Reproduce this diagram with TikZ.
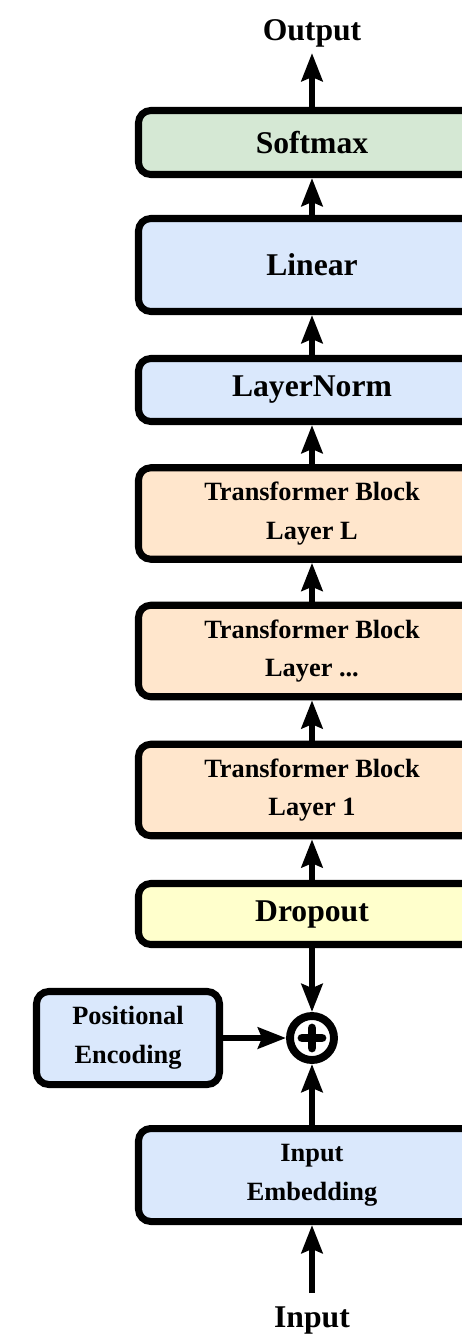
\documentclass[tikz,border=0pt]{standalone}
\usepackage{fontspec}
\setmainfont{Liberation Serif}
\usetikzlibrary{
  positioning,
  arrows.meta
}
\usepackage{xcolor}
\definecolor{embedblue}{HTML}{DAE8FC}
\definecolor{blockorange}{HTML}{FFE6CC}
\definecolor{dropyellow}{HTML}{FFFFCC}
\definecolor{softgreen}{HTML}{D5E8D4}

\begin{document}
\begin{tikzpicture}[
  box/.style={draw, line width=4pt, rounded corners=7pt, minimum width=6.94cm,
              align=center, font=\fontsize{18}{22}\selectfont\bfseries},
  smallbox/.style={box, font=\fontsize{15}{22}\selectfont\bfseries},
  blockbox/.style={smallbox, fill=blockorange, minimum height=1.83cm},
  addnode/.style={draw, circle, line width=4.5pt, minimum size=0.88cm, inner sep=0pt},
  plusbar/.style={line width=5pt, line cap=round},
  lbl/.style={font=\fontsize{18}{22}\selectfont\bfseries},
  arr/.style={-{Stealth[length=0.56cm, width=0.42cm, inset=0.08cm]}, line width=3.4pt}
]
  \clip (0,0) rectangle (9.24,-26.72);

  % Output head
  \node[lbl] (output) at (6.24, -0.66) {Output};
  \node[box, fill=softgreen, minimum height=1.28cm] (softmax) at (6.24, -2.85) {Softmax};
  \node[box, fill=embedblue, minimum height=1.86cm] (linear) at (6.24, -5.3) {Linear};
  \node[box, fill=embedblue, minimum height=1.26cm] (norm) at (6.24, -7.8) {LayerNorm};

  % Transformer stack
  \node[blockbox] (layerL) at (6.24, -10.27) {Transformer Block\\Layer L};
  \node[blockbox] (layerdots) at (6.24, -13.02) {Transformer Block\\Layer ...};
  \node[blockbox] (layer1) at (6.24, -15.8) {Transformer Block\\Layer 1};
  \node[box, fill=dropyellow, minimum height=1.22cm] (dropout) at (6.24, -18.28) {Dropout};

  % Embedding + position
  \node[addnode] (add) at (6.24, -20.76) {};
  \node[smallbox, fill=embedblue, minimum width=3.66cm, minimum height=1.86cm] (posenc)
    at (2.56, -20.76) {Positional\\Encoding};
  \node[smallbox, fill=embedblue, minimum height=1.86cm] (embed) at (6.24, -23.5) {Input\\Embedding};
  \node[lbl] (input) at (6.24, -26.4) {Input};

  \draw[plusbar] ([xshift=-0.2cm]add.center) -- ([xshift=0.2cm]add.center);
  \draw[plusbar] ([yshift=-0.2cm]add.center) -- ([yshift=0.2cm]add.center);

  \draw[arr, shorten <=4pt] (input) -- (embed);
  \draw[arr] (embed) -- (add);
  \draw[arr] (posenc) -- (add);
  \draw[arr] (dropout) -- (add);
  \draw[arr] (dropout) -- (layer1);
  \draw[arr] (layer1) -- (layerdots);
  \draw[arr] (layerdots) -- (layerL);
  \draw[arr] (layerL) -- (norm);
  \draw[arr] (norm) -- (linear);
  \draw[arr] (linear) -- (softmax);
  \draw[arr] (softmax) -- (output);
\end{tikzpicture}
\end{document}
